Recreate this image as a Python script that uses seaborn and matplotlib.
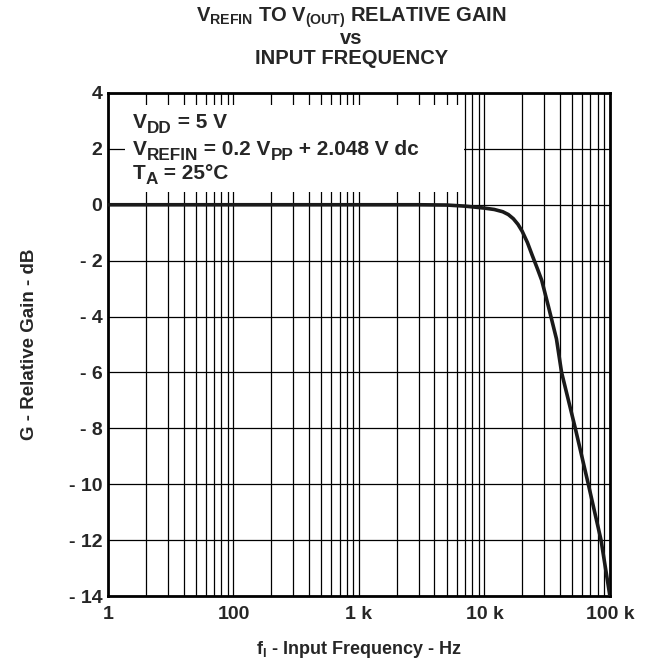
import numpy as np
import pandas as pd
import seaborn as sns
import matplotlib.pyplot as plt
import matplotlib.ticker as mticker
from matplotlib.patches import Rectangle

# values
freq_hz = [10, 100, 1000, 3000, 5000, 7000, 10000, 12000, 14000, 15500,
           17000, 18500, 20000, 22000, 24000, 26500, 28600, 32400, 37500,
           41200, 53000, 67300, 85000, 100000]
gain_db = [0, 0, 0, 0, -0.01, -0.05, -0.12, -0.17, -0.25, -0.35,
           -0.5, -0.7, -0.95, -1.35, -1.8, -2.3, -2.7, -3.65, -4.8,
           -6.0, -8.0, -10.0, -12.0, -14.0]

x_tick_vals = [10, 100, 1000, 10000, 100000]
x_tick_labels = ["1", "100", "1 k", "10 k", "100 k"]
y_tick_vals = [4, 2, 0, -2, -4, -6, -8, -10, -12, -14]
y_tick_labels = ["4", "2", "0", "- 2", "- 4", "- 6", "- 8", "- 10", "- 12", "- 14"]

# condition lines: (text, is_subscript)
cond_lines = [
    [("V", False), ("DD", True), (" = 5 V", False)],
    [("V", False), ("REFIN", True), (" = 0.2 V", False), ("PP", True),
     (" + 2.048 V dc", False)],
    [("T", False), ("A", True), (" = 25°C", False)],
]

df = pd.DataFrame({"freq": freq_hz, "gain": gain_db})

sns.set_style("white")
plt.rcParams["font.family"] = ["Liberation Sans", "DejaVu Sans"]
plt.rcParams["font.weight"] = "bold"
plt.rcParams["mathtext.fontset"] = "custom"
plt.rcParams["mathtext.rm"] = "Liberation Sans:bold"


def rich_text(ax, x, y, parts, size=15, sub_size=12.3, drop=3.8):
    t = ax.text(x, y, parts[0][0], transform=ax.transAxes, fontsize=size,
                fontweight="bold", va="baseline", zorder=5)
    for s, sub in parts[1:]:
        t = ax.annotate(s, xy=(1, y), xycoords=(t, "axes fraction"),
                        xytext=(0, -drop if sub else 0), textcoords="offset points",
                        fontsize=sub_size if sub else size, fontweight="bold",
                        va="baseline", ha="left", zorder=5)
    return t


fig = plt.figure(figsize=(6.48, 6.64), dpi=100)
ax = fig.add_axes([0.1667, 0.1024, 0.7745, 0.7576])

sns.lineplot(data=df, x="freq", y="gain", color="#1a1a1a", linewidth=2.6,
             ax=ax, zorder=4)

ax.set_xscale("log")
ax.set_xlim(10, 100000)
ax.set_ylim(-14, 4)

ax.xaxis.set_minor_locator(mticker.LogLocator(base=10, subs=np.arange(2, 10)))
ax.xaxis.set_minor_formatter(mticker.NullFormatter())
ax.set_xticks(x_tick_vals)
ax.set_xticklabels(x_tick_labels, fontsize=14, fontweight="bold")
ax.set_yticks(y_tick_vals)
ax.set_yticklabels(y_tick_labels, fontsize=14, fontweight="bold")
ax.tick_params(axis="x", which="both", length=0, pad=7)
ax.tick_params(axis="y", which="both", length=0, pad=4)

ax.set_axisbelow(True)
ax.grid(True, which="major", axis="both", color="black", linewidth=0.9)
ax.grid(True, which="minor", axis="x", color="black", linewidth=0.9)

for s in ax.spines.values():
    s.set_color("black")
    s.set_linewidth(2)

# white box behind the conditions text
ax.add_patch(Rectangle((0.034, 0.803), 0.676, 0.173, transform=ax.transAxes,
                       facecolor="white", edgecolor="none", zorder=1))

for yy, parts in zip([0.930, 0.877, 0.829], cond_lines):
    rich_text(ax, 0.050, yy, parts)

ax.set_xlabel(r"f$_{\mathrm{I}}$ - Input Frequency - Hz", fontsize=13,
              fontweight="bold", labelpad=12)
ax.set_ylabel("G - Relative Gain - dB", fontsize=13.5, fontweight="bold",
              labelpad=22)

fig.text(0.542, 0.968, r"V$_{\mathrm{REFIN}}$ TO V$_{\mathrm{(OUT)}}$ RELATIVE GAIN",
         ha="center", va="baseline", fontsize=14.5, fontweight="bold")
fig.text(0.542, 0.934, "vs", ha="center", va="baseline", fontsize=14.5,
         fontweight="bold")
fig.text(0.542, 0.903, "INPUT FREQUENCY", ha="center", va="baseline",
         fontsize=14.5, fontweight="bold")

fig.savefig("out.png", dpi=100)
